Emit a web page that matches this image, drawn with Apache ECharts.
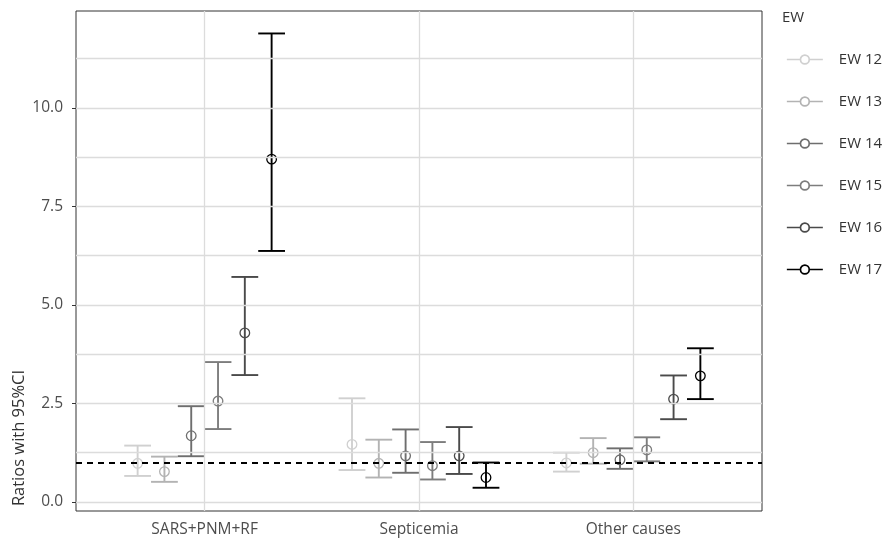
<!DOCTYPE html>
<html><head><meta charset="utf-8">
<script src="https://cdn.jsdelivr.net/npm/echarts@6/dist/echarts.min.js"></script>
<style>html,body{margin:0;padding:0;background:#fff}#c{width:885px;height:542px}</style>
</head><body><div id="c"></div>
<script>
const categories = ['SARS+PNM+RF', 'Septicemia', 'Other causes'];
const groups = ['EW 12', 'EW 13', 'EW 14', 'EW 15', 'EW 16', 'EW 17'];
const colors = ['#d0d0d0', '#b3b3b3', '#6e6e6e', '#7d7d7d', '#4a4a4a', '#000000'];
const estimates = [
  [0.98, 1.46, 0.99],
  [0.77, 0.98, 1.25],
  [1.68, 1.17, 1.07],
  [2.56, 0.92, 1.32],
  [4.29, 1.17, 2.61],
  [8.70, 0.62, 3.20]
];
const lowers = [
  [0.66, 0.81, 0.77],
  [0.51, 0.62, 0.97],
  [1.16, 0.74, 0.84],
  [1.85, 0.57, 1.03],
  [3.22, 0.71, 2.10],
  [6.37, 0.36, 2.61]
];
const uppers = [
  [1.43, 2.63, 1.25],
  [1.15, 1.58, 1.62],
  [2.43, 1.84, 1.36],
  [3.55, 1.52, 1.64],
  [5.71, 1.90, 3.21],
  [11.89, 1.00, 3.90]
];
const yTicks = [0, 2.5, 5, 7.5, 10];
const yMinorTicks = [1.25, 3.75, 6.25, 8.75, 11.25];
const xTicks = [1, 2, 3];
const refLine = 1;

const dodge = 0.125;
const FONT = '"Open Sans", "DejaVu Sans", sans-serif';
const gridColor = '#dcdcdc';

const series = groups.map((g, gi) => ({
  name: g,
  type: 'custom',
  z: 3,
  itemStyle: { color: colors[gi] },
  data: categories.map((c, ci) => [ci + 1 + (gi - 2.5) * dodge, estimates[gi][ci], lowers[gi][ci], uppers[gi][ci]]),
  encode: { x: 0, y: [1, 2, 3] },
  renderItem: function (params, api) {
    const x = api.value(0);
    const pm = api.coord([x, api.value(1)]);
    const pl = api.coord([x, api.value(2)]);
    const ph = api.coord([x, api.value(3)]);
    const hw = api.size([dodge, 0])[0] / 2;
    const st = { stroke: colors[gi], lineWidth: 1.9, fill: null };
    return {
      type: 'group',
      children: [
        { type: 'line', shape: { x1: pl[0], y1: pl[1], x2: ph[0], y2: ph[1] }, style: st },
        { type: 'line', shape: { x1: pl[0] - hw, y1: pl[1], x2: pl[0] + hw, y2: pl[1] }, style: st },
        { type: 'line', shape: { x1: ph[0] - hw, y1: ph[1], x2: ph[0] + hw, y2: ph[1] }, style: st },
        { type: 'circle', shape: { cx: pm[0], cy: pm[1], r: 4.8 }, style: { stroke: colors[gi], lineWidth: 1.3, fill: 'rgba(0,0,0,0)' } }
      ]
    };
  }
}));

// grid lines
series.push({
  type: 'line', data: [], silent: true, z: 1,
  markLine: {
    silent: true, symbol: 'none', animation: false,
    label: { show: false },
    lineStyle: { color: gridColor, width: 1.3, type: 'solid' },
    data: xTicks.map(v => ({ xAxis: v })).concat(yTicks.concat(yMinorTicks).map(v => ({ yAxis: v })))
  }
});
// reference line
series.push({
  type: 'line', data: [], silent: true, z: 5,
  markLine: {
    silent: true, symbol: 'none', animation: false,
    label: { show: false },
    lineStyle: { color: '#000', width: 1.8, type: [6, 5] },
    data: [{ yAxis: refLine }]
  }
});

const chart = echarts.init(document.getElementById('c'), null, { renderer: 'canvas' });
chart.setOption({
  animation: false,
  backgroundColor: '#fff',
  grid: { left: 76, right: 123, top: 11, bottom: 31, show: true, borderColor: '#333', borderWidth: 1, backgroundColor: 'transparent', containLabel: false },
  xAxis: {
    type: 'value', min: 0.4, max: 3.6,
    axisLine: { show: false },
    splitLine: { show: false },
    axisTick: { show: true, customValues: xTicks, length: 4, lineStyle: { color: '#333' } },
    axisLabel: { customValues: xTicks, formatter: v => categories[Math.round(v) - 1] || '', color: '#4d4d4d', fontFamily: FONT, fontSize: 15.5, margin: 11 }
  },
  yAxis: {
    type: 'value', min: -0.23, max: 12.46,
    axisLine: { show: false },
    splitLine: { show: false },
    axisTick: { show: true, customValues: yTicks, length: 4, lineStyle: { color: '#333' } },
    axisLabel: { customValues: yTicks, formatter: v => v.toFixed(1), color: '#4d4d4d', fontFamily: FONT, fontSize: 15.5, margin: 13 }
  },
  legend: {
    orient: 'vertical', left: 781, top: 47, padding: 5,
    itemWidth: 36, itemHeight: 10, itemGap: 27,
    icon: 'path://M0 5 L13.6 5 M22.4 5 L36 5 M22.4 5 A4.4 4.4 0 1 1 13.6 5 A4.4 4.4 0 1 1 22.4 5',
    textStyle: { color: '#333', fontFamily: FONT, fontSize: 15, padding: [0, 0, 0, 11], overflow: 'none' },
    data: groups.map((g, gi) => ({ name: g, itemStyle: { color: 'rgba(0,0,0,0)', borderColor: colors[gi], borderWidth: 1.7 } })),
    selectedMode: false
  },
  graphic: [
    { type: 'text', left: 782, top: 10, style: { text: 'EW', fill: '#333', font: '15px ' + FONT } },
    { type: 'text', x: 19, y: 438, rotation: Math.PI / 2, style: { text: 'Ratios with 95%CI', fill: '#333', font: '16.5px ' + FONT, align: 'center', verticalAlign: 'middle' } }
  ],
  series: series
});
</script></body></html>
